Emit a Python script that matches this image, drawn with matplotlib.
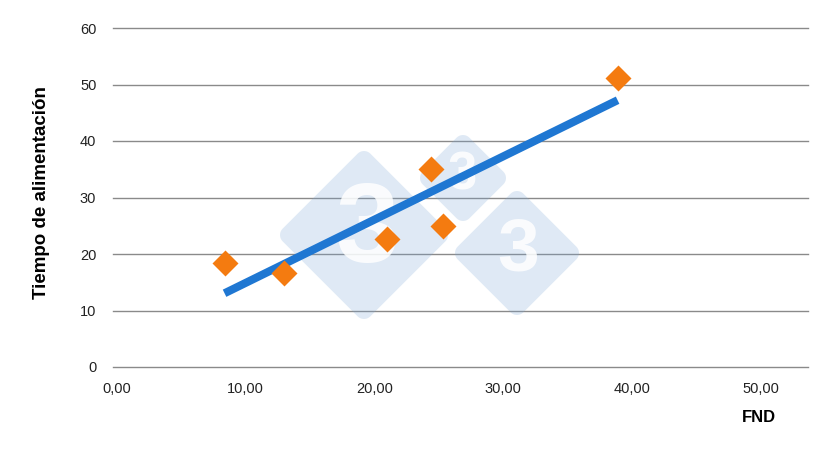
import numpy as np
import matplotlib
matplotlib.use("Agg")
import matplotlib.pyplot as plt
from matplotlib.patches import Polygon

plt.rcParams["font.family"] = ["Liberation Sans", "DejaVu Sans"]

# data
fnd = [8.36, 12.97, 20.99, 24.40, 25.33, 38.87]
tiempo = [18.35, 16.60, 22.65, 35.00, 24.96, 51.20]

x_ticks = [0, 10, 20, 30, 40, 50]
x_tick_labels = ["0,00", "10,00", "20,00", "30,00", "40,00", "50,00"]
y_ticks = [0, 10, 20, 30, 40, 50, 60]
y_tick_labels = ["0", "10", "20", "30", "40", "50", "60"]

W, H = 820, 468
fig = plt.figure(figsize=(W / 100, H / 100), dpi=100)
ax = fig.add_axes([113 / W, 1 - 367 / H, 695 / W, 339 / H])

# linear trend line (least squares, like the spreadsheet trend line)
slope, intercept = np.polyfit(fnd, tiempo, 1)
xs = np.array([min(fnd), max(fnd)])
ax.plot(xs, slope * xs + intercept, color="#1f77d2", lw=5.8,
        solid_capstyle="butt", zorder=3)

ax.scatter(fnd, tiempo, marker="D", s=175, color="#f47b10", zorder=4,
           linewidths=0)

ax.set_xlim(-0.3, 53.65)
ax.set_ylim(0, 60)
ax.set_xticks(x_ticks)
ax.set_xticklabels(x_tick_labels)
ax.set_yticks(y_ticks)
ax.set_yticklabels(y_tick_labels)
ax.tick_params(length=0, labelsize=10.5, colors="#222222")
ax.tick_params(axis="x", pad=11)
ax.tick_params(axis="y", pad=12)
ax.yaxis.grid(True, color="#8a8a8a", lw=1.0)
ax.set_axisbelow(True)
for sp in ax.spines.values():
    sp.set_visible(False)
for gl in ax.yaxis.get_gridlines():
    gl.set_clip_on(False)

ax.set_ylabel("Tiempo de alimentación", fontsize=13.5, fontweight="bold")
ax.yaxis.set_label_coords(-0.091, 0.515)
fig.text(759 / W, 1 - 417 / H, "FND", fontsize=12, fontweight="bold",
         ha="center", va="center")


# watermark: rounded light-blue diamonds with a white "3"
def rounded_diamond(cx, cy, ext, r):
    d = ext - r
    pts = []
    for theta in [0, 90, 180, 270]:
        vx = cx + d * np.cos(np.radians(theta))
        vy = cy + d * np.sin(np.radians(theta))
        for a in np.linspace(theta - 45, theta + 45, 10):
            pts.append((vx + r * np.cos(np.radians(a)),
                        vy + r * np.sin(np.radians(a))))
    return [(px / W, 1 - py / H) for px, py in pts]


marks = [(364, 235, 84, 82, 367), (463, 178, 43, 38, 462), (517, 253, 62, 54, 518)]
for cx, cy, ext, fs, tx in marks:
    ax.add_patch(Polygon(rounded_diamond(cx, cy, ext, 9), closed=True,
                         transform=fig.transFigure, facecolor="#7aa6d6",
                         alpha=0.24, edgecolor="none", zorder=2,
                         clip_on=False))
    ax.text(tx / W, 1 - (cy - 2) / H, "3", fontsize=fs, fontweight="bold",
            color="white", alpha=0.85, ha="center", va="center", zorder=2.5,
            transform=fig.transFigure)

fig.savefig("out.png", dpi=100)
